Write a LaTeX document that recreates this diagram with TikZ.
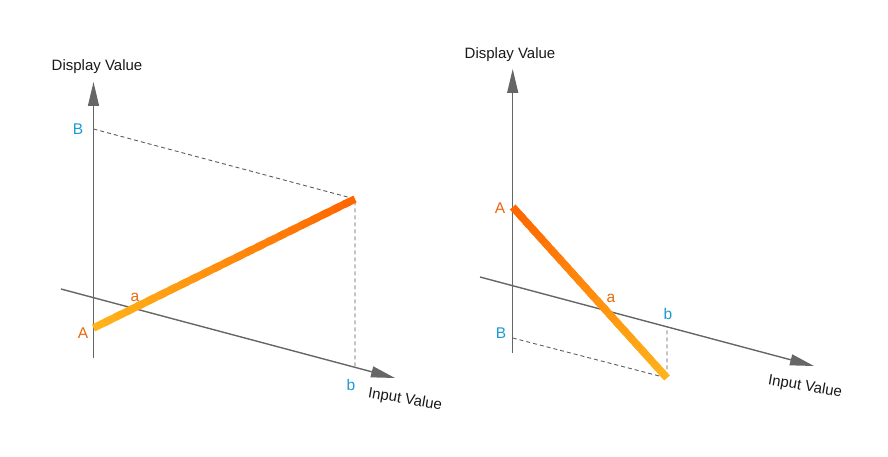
\documentclass[tikz,border=0pt]{standalone}
\usepackage{fontspec}
\setmainfont{Liberation Sans}
\usetikzlibrary{arrows.meta,calc}
\definecolor{lightorange}{HTML}{FFB31A}
\definecolor{darkorange}{HTML}{FF6600}
\definecolor{labelorange}{HTML}{E8670C}
\definecolor{labelblue}{HTML}{1E9AD6}
\definecolor{axisgray}{HTML}{666666}
\begin{document}
\begin{tikzpicture}[
    x=1pt, y=-1pt,
    axis/.style={draw=axisgray, line width=1.4pt, -{Triangle[length=24pt,width=11pt]}},
    guide/.style={draw=axisgray!90!black, line width=0.9pt, dash pattern=on 4pt off 3pt},
    bar/.style={line width=7.5pt, line cap=butt},
    title/.style={font=\fontsize{15}{17}\selectfont, text=black!90},
    pointlabel/.style={font=\fontsize{15.5}{17}\selectfont}]
  \useasboundingbox (0,0) rectangle (888,457);
  % left: display value rises with input value
  \coordinate (ly0) at (93.5,358);
  \coordinate (ly1) at (93.5,82);
  \coordinate (lx0) at (61,289);
  \coordinate (lx1) at (395,378);
  \coordinate (lA) at (93.5,328);
  \coordinate (lB) at (93.5,129);
  \coordinate (lE) at (355,199);
  \coordinate (lb) at (355,367.3);
  \draw[axis] (ly0) -- (ly1);
  \draw[axis] (lx0) -- (lx1);
  \draw[guide] (lB) -- (lE) -- (lb);
  \foreach \i [evaluate=\i as \p using 100*\i/23] in {0,...,23}
    \draw[bar, draw=darkorange!\p!lightorange]
      ($(lA)!{\i/24}!(lE)$) -- ($(lA)!{min(\i+1.6,24)/24}!(lE)$);
  \node[title] (ldisp) at (97,67) {Display Value};
  \node[title, rotate=-10] (linput) at (405,400) {Input Value};
  \node[pointlabel, text=labelblue] (lBlab) at (78,129) {B};
  \node[pointlabel, text=labelorange] (lAlab) at (83,333) {A};
  \node[pointlabel, text=labelorange] (lalab) at (135,297) {a};
  \node[pointlabel, text=labelblue] (lblab) at (351,385) {b};
  % right: display value falls with input value
  \coordinate (ry0) at (512.7,353);
  \coordinate (ry1) at (512.7,69);
  \coordinate (rx0) at (480,277);
  \coordinate (rx1) at (814,366);
  \coordinate (rA) at (512.7,207);
  \coordinate (rB) at (512.7,338);
  \coordinate (rE) at (667,378);
  \coordinate (rb) at (667,326.8);
  \draw[axis] (ry0) -- (ry1);
  \draw[axis] (rx0) -- (rx1);
  \draw[guide] (rB) -- (rE) -- (rb);
  \foreach \i [evaluate=\i as \p using 100-100*\i/23] in {0,...,23}
    \draw[bar, draw=darkorange!\p!lightorange]
      ($(rA)!{\i/24}!(rE)$) -- ($(rA)!{min(\i+1.6,24)/24}!(rE)$);
  \node[title] (rdisp) at (510,55) {Display Value};
  \node[title, rotate=-10] (rinput) at (805,387) {Input Value};
  \node[pointlabel, text=labelorange] (rAlab) at (500,208) {A};
  \node[pointlabel, text=labelblue] (rBlab) at (501,333) {B};
  \node[pointlabel, text=labelorange] (ralab) at (611,298) {a};
  \node[pointlabel, text=labelblue] (rblab) at (668,314) {b};
\end{tikzpicture}
\end{document}
